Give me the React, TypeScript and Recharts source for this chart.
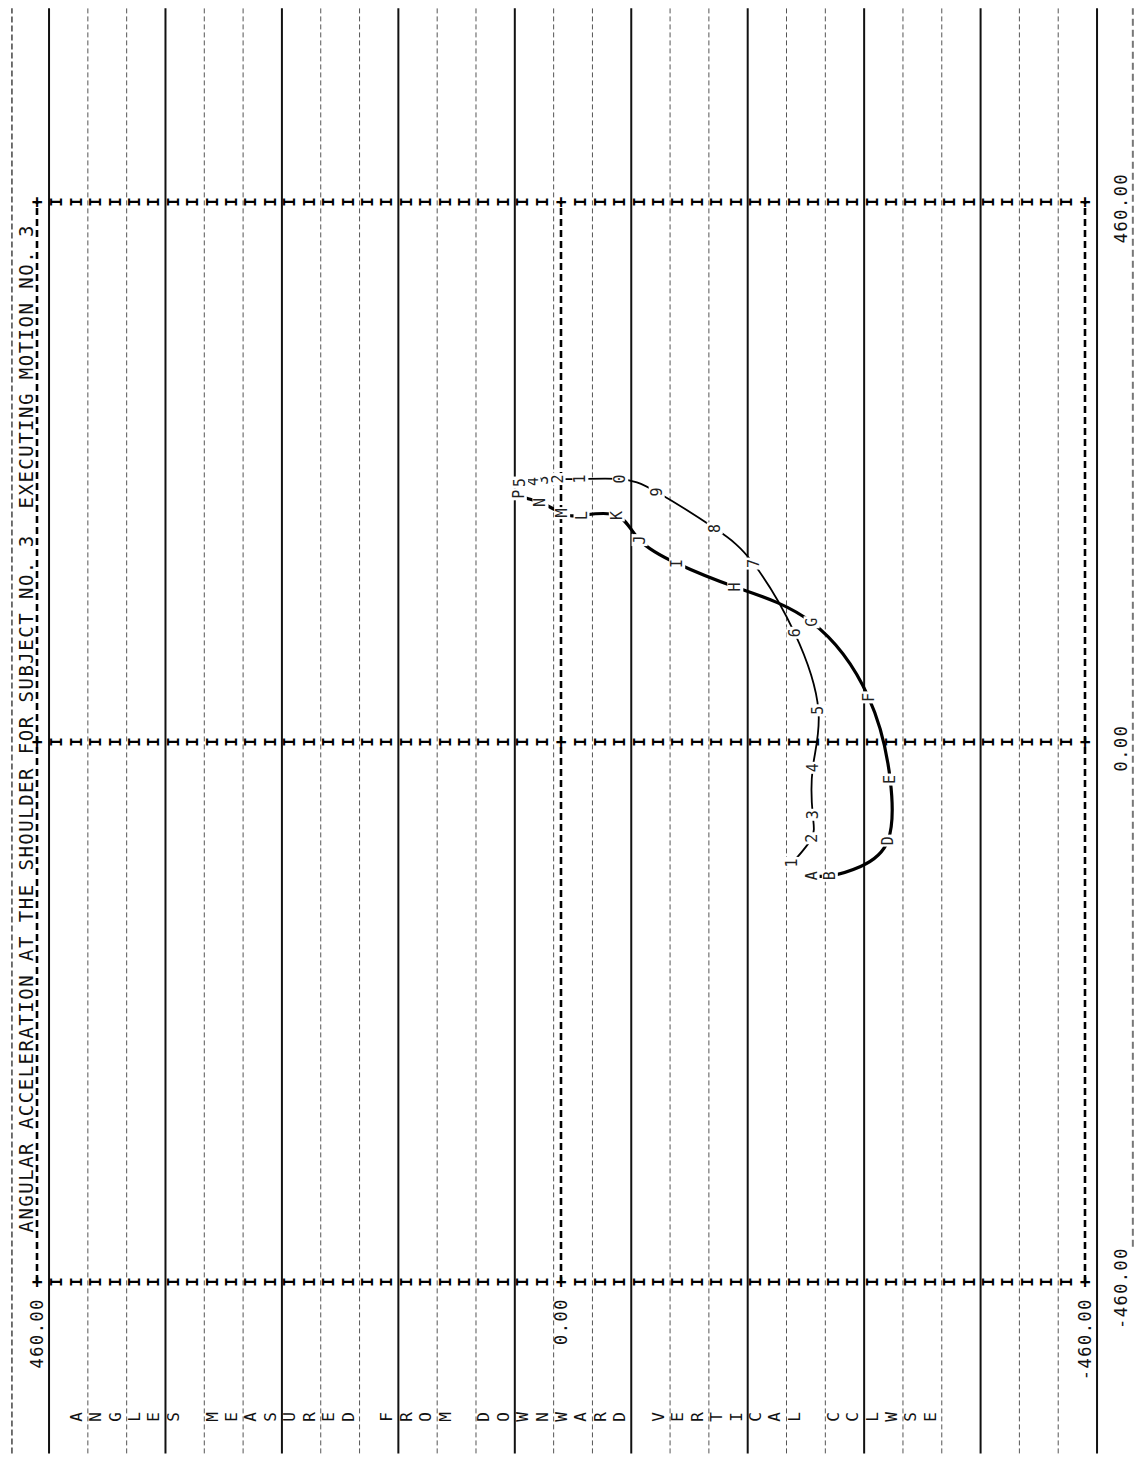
import { Line, LineChart, ReferenceDot, ReferenceLine, XAxis, YAxis } from "recharts";

// printed sideways on the line printer: the chart is built upright and turned a quarter to the left
const PAGE_W = 1136;
const PAGE_H = 1458;
const CHART_W = 1458;
const CHART_H = 1136;

const title = "ANGULAR ACCELERATION AT THE SHOULDER FOR SUBJECT NO. 3  EXECUTING MOTION NO. 3";
const sideCaption = "ANGLES MEASURED FROM DOWNWARD VERTICAL CCLWSE";

const yTicks = [460, 0, -460];
const yTickLabels = ["460.00", "0.00", "-460.00"];
const xTicks = [-460, 0, 460];
const xTickLabels = ["-460.00", "0.00", "460.00"];

// digit track (thin curve)
const digitLabels = ["1", "2", "3", "4", "5", "6", "7", "8", "9", "0", "1", "2", "3", "4", "5"];
const digitX = [-103, -82, -62, -22, 27, 93, 152, 182, 213, 224, 224, 224, 223, 222, 221];
const digitY = [-203, -220, -221, -221, -226, -205, -169, -135, -84, -52, -17, 3, 16, 25, 36];

// letter track (heavy curve); C and O are hidden under the print in the original
const letterLabels = ["A", "B", "", "D", "E", "F", "G", "H", "I", "J", "K", "L", "M", "N", "", "P"];
const letterX = [-114, -114, -106, -84, -32, 38, 102, 132, 152, 172, 193, 193, 195, 204, 207, 211];
const letterY = [-220, -236, -263, -287, -289, -270, -220, -153, -102, -69, -49, -18, -1, 18, 28, 37];

const digitPoints = digitX.map((x, i) => ({ x, y: digitY[i], label: digitLabels[i] }));
const letterPoints = letterX.map((x, i) => ({ x, y: letterY[i], label: letterLabels[i] }));

const ROW = 920 / 54; // one print line
const printRows = Array.from({ length: 55 }, (_, k) => 460 - k * ROW);
const paperRules = Array.from({ length: 28 }, (_, j) => ({ y: 460 - (0.62 + 2 * j) * ROW, solid: j % 3 === 0 }));

const MONO = "'DejaVu Sans Mono', 'Liberation Mono', monospace";

const markDot = (props: any) => {
  const { cx, cy, payload, index } = props;
  if (!payload.label) return <g key={index} />;
  return (
    <g key={index}>
      <rect x={cx - 6} y={cy - 8} width={12} height={16} fill="#fff" />
      <text x={cx} y={cy + 5} textAnchor="middle" fontSize={15} fontFamily={MONO} fill="#222">
        {payload.label}
      </text>
    </g>
  );
};

export default function App() {
  return (
    <div style={{ position: "absolute", left: 0, top: 0, width: PAGE_W, height: PAGE_H, overflow: "hidden", background: "#fff" }}>
      <div
        style={{
          position: "absolute",
          left: 0,
          top: 0,
          width: CHART_W,
          height: CHART_H,
          transformOrigin: "0 0",
          transform: `translate(0px, ${PAGE_H}px) rotate(-90deg)`,
        }}
      >
        <LineChart width={CHART_W} height={CHART_H} margin={{ top: 37, right: 202, bottom: 51, left: 176 }}>
          <XAxis type="number" dataKey="x" domain={[-460, 460]} hide />
          <YAxis type="number" domain={[-460, 460]} hide />

          {/* paper ruling */}
          {paperRules.map((r, i) => (
            <ReferenceLine
              key={`rule-${i}`}
              segment={[{ x: -606, y: r.y }, { x: 625, y: r.y }]}
              ifOverflow="visible"
              stroke={r.solid ? "#111" : "#555"}
              strokeWidth={r.solid ? 2 : 1}
              strokeDasharray={r.solid ? undefined : "5 3"}
            />
          ))}
          <ReferenceLine segment={[{ x: -606, y: 482 }, { x: 625, y: 482 }]} ifOverflow="visible" stroke="#444" strokeWidth={1.5} strokeDasharray="6 3" />
          <ReferenceLine segment={[{ x: -430, y: -502 }, { x: 625, y: -502 }]} ifOverflow="visible" stroke="#777" strokeWidth={2} strokeDasharray="7 4" />

          {/* frame rows */}
          {yTicks.map((y) => (
            <ReferenceLine
              key={`frame-${y}`}
              segment={[{ x: -460, y }, { x: 460, y }]}
              ifOverflow="visible"
              stroke="#000"
              strokeWidth={2.6}
              strokeDasharray="7 4"
            />
          ))}

          {/* printed axis columns */}
          {xTicks.map((x) =>
            printRows.map((y, k) => (
              <ReferenceDot
                key={`col-${x}-${k}`}
                x={x}
                y={y}
                ifOverflow="visible"
                shape={(p: any) => (
                  <text x={p.cx} y={p.cy + 6} textAnchor="middle" fontSize={k % 27 === 0 ? 18 : 16} fontWeight="bold" fontFamily={MONO} fill="#000">
                    {k % 27 === 0 ? "+" : "I"}
                  </text>
                )}
              />
            ))
          )}

          {/* title on the top frame row */}
          <ReferenceDot
            x={0}
            y={460}
            ifOverflow="visible"
            shape={(p: any) => (
              <text
                x={p.cx + 13}
                y={p.cy - 4}
                textAnchor="middle"
                fontSize={19}
                fontFamily={MONO}
                fill="#111"
                textLength={1007}
                lengthAdjust="spacing"
                style={{ whiteSpace: "pre" }}
              >
                {title}
              </text>
            )}
          />

          {/* vertical axis labels */}
          {yTicks.map((y, i) => (
            <ReferenceDot
              key={`yl-${y}`}
              x={-460}
              y={y}
              ifOverflow="visible"
              shape={(p: any) => (
                <text x={p.cx - 16} y={p.cy + 6} textAnchor="end" fontSize={17} letterSpacing={1.5} fontFamily={MONO} fill="#111">
                  {yTickLabels[i]}
                </text>
              )}
            />
          ))}

          {/* horizontal axis labels */}
          {xTicks.map((x, i) => (
            <ReferenceDot
              key={`xl-${x}`}
              x={x}
              y={-460}
              ifOverflow="visible"
              shape={(p: any) => (
                <text x={p.cx - 6} y={p.cy + 42} textAnchor="middle" fontSize={17} letterSpacing={1.5} fontFamily={MONO} fill="#111">
                  {xTickLabels[i]}
                </text>
              )}
            />
          ))}

          {/* side caption, one letter per print line */}
          {sideCaption.split("").map((ch, i) =>
            ch === " " ? null : (
              <ReferenceDot
                key={`cap-${i}`}
                x={-575}
                y={printRows[2 + i]}
                ifOverflow="visible"
                shape={(p: any) => (
                  <text x={p.cx} y={p.cy + 6} textAnchor="middle" fontSize={16} fontFamily={MONO} fill="#111">
                    {ch}
                  </text>
                )}
              />
            )
          )}

          <Line
            data={digitPoints}
            dataKey="y"
            type="natural"
            stroke="#000"
            strokeWidth={1.8}
            dot={markDot}
            activeDot={false}
            isAnimationActive={false}
          />
          <Line
            data={letterPoints}
            dataKey="y"
            type="natural"
            stroke="#000"
            strokeWidth={3.2}
            dot={markDot}
            activeDot={false}
            isAnimationActive={false}
          />
        </LineChart>
      </div>
    </div>
  );
}
